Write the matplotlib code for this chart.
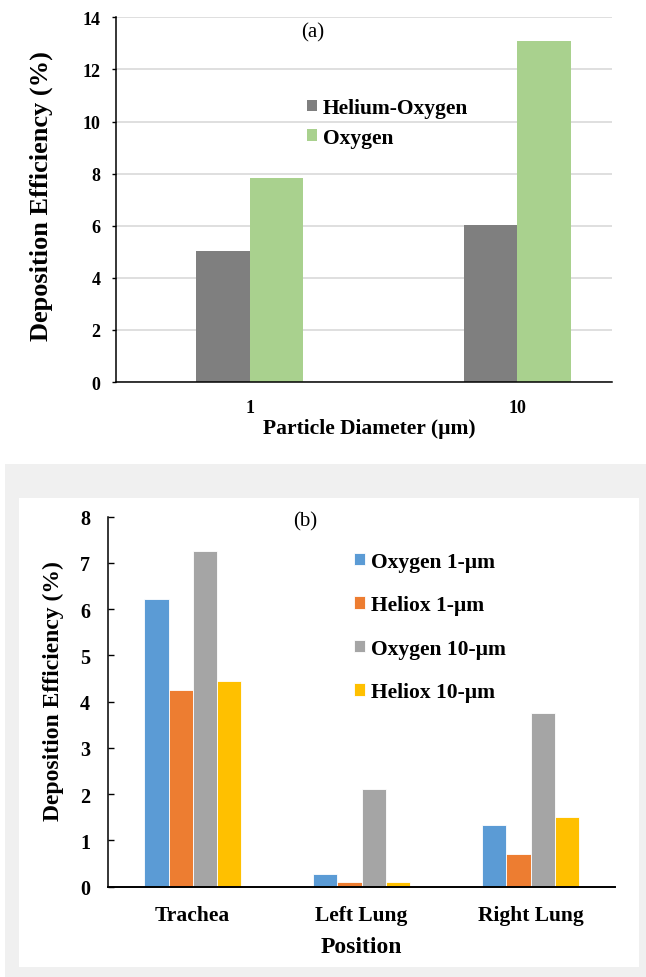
import matplotlib
matplotlib.use("Agg")
import numpy as np
import matplotlib.pyplot as plt
from matplotlib.patches import Rectangle

plt.rcParams['font.family'] = ['Liberation Serif', 'DejaVu Serif']

# panel (a)
sizes = ['1', '10']
series_a = ['Helium-Oxygen', 'Oxygen']
helium_oxygen = [5.03, 6.02]
oxygen = [7.82, 13.1]
colors_a = ['#7f7f7f', '#a9d18e']

# panel (b)
positions = ['Trachea', 'Left Lung', 'Right Lung']
series_b = ['Oxygen 1-µm', 'Heliox 1-µm', 'Oxygen 10-µm', 'Heliox 10-µm']
oxygen_1 = [6.22, 0.28, 1.34]
heliox_1 = [4.25, 0.09, 0.70]
oxygen_10 = [7.26, 2.10, 3.75]
heliox_10 = [4.44, 0.10, 1.50]
colors_b = ['#5b9bd5', '#ed7d31', '#a5a5a5', '#ffc000']

W, H = 646, 978
fig = plt.figure(figsize=(W / 100, H / 100), dpi=100)


def px_axes(left, top, right, bottom):
    return fig.add_axes([left / W, 1 - bottom / H, (right - left) / W, (bottom - top) / H])


# grey frame behind panel (b)
fig.patches.append(Rectangle((5 / W, 0), 1 - 5 / W, 1 - 465 / H, transform=fig.transFigure,
                             facecolor='#f0f0f0', edgecolor='none', zorder=-2))
fig.patches.append(Rectangle((19 / W, 1 - 968 / H), (639 - 19) / W, (968 - 499) / H,
                             transform=fig.transFigure, facecolor='white', edgecolor='none', zorder=-1))

bold = dict(fontweight='bold')

# ---------- (a) ----------
ax = px_axes(116, 18.3, 612, 383)
x = np.arange(len(sizes))
w = 0.2
ax.bar(x - w / 2, helium_oxygen, w, color=colors_a[0], label=series_a[0], zorder=2)
ax.bar(x + w / 2, oxygen, w, color=colors_a[1], label=series_a[1], zorder=2)
ax.set_xlim(-0.5, 1.354)
ax.set_ylim(0, 14)
ax.set_yticks(np.arange(0, 15, 2))
ax.set_xticks(x)
ax.set_xticklabels(sizes, fontsize=13, **bold)
ax.set_yticklabels([str(v) for v in range(0, 15, 2)], fontsize=13, **bold)
ax.yaxis.grid(True, color='#d9d9d9', lw=1.2, zorder=0)
ax.set_axisbelow(True)
for s in ['top', 'right']:
    ax.spines[s].set_visible(False)
ax.spines['left'].set_linewidth(1.1)
ax.spines['bottom'].set_linewidth(1.1)
ax.tick_params(axis='y', length=3, width=1, pad=8)
ax.tick_params(axis='x', length=0, pad=12)
ax.set_xlabel('Particle Diameter (µm)', fontsize=15.5, **bold)
ax.xaxis.set_label_coords(0.51, -0.099)
ax.set_ylabel('Deposition Efficiency (%)', fontsize=19, **bold)
ax.yaxis.set_label_coords(-0.127, 0.513)
ax.text(0.397, 0.96, '(a)', transform=ax.transAxes, fontsize=15, ha='center', va='center')
ax.legend(loc='upper left', bbox_to_anchor=(0.385, 0.778), frameon=False, prop=dict(size=15.5, weight='bold'),
          handlelength=0.45, handleheight=0.45, handletextpad=0.3, labelspacing=0.45, borderpad=0,
          borderaxespad=0)

# ---------- (b) ----------
bx = px_axes(108.3, 517.6, 615, 887.5)
xb = np.arange(len(positions))
wb = 0.143
vals = [oxygen_1, heliox_1, oxygen_10, heliox_10]
for i, (v, c, lab) in enumerate(zip(vals, colors_b, series_b)):
    bx.bar(xb + (i - 1.5) * wb, v, wb, color=c, edgecolor='white', linewidth=0.6, label=lab, zorder=2)
bx.set_xlim(-0.5, 2.5)
bx.set_ylim(0, 8)
bx.set_yticks(range(0, 9))
bx.set_yticklabels([str(v) for v in range(0, 9)], fontsize=14.5, **bold)
bx.set_xticks(xb)
bx.set_xticklabels(positions, fontsize=15.5, **bold)
for s in ['top', 'right']:
    bx.spines[s].set_visible(False)
bx.spines['left'].set_linewidth(1.1)
bx.spines['bottom'].set_linewidth(1.4)
bx.tick_params(axis='y', direction='in', length=4, width=1, pad=13)
bx.tick_params(axis='x', length=0, pad=13)
bx.set_xlabel('Position', fontsize=17, **bold)
bx.xaxis.set_label_coords(0.5, -0.134)
bx.set_ylabel('Deposition Efficiency (%)', fontsize=17, **bold)
bx.yaxis.set_label_coords(-0.088, 0.531)
bx.text(0.388, 0.988, '(b)', transform=bx.transAxes, fontsize=15, ha='center', va='center')
bx.legend(loc='upper left', bbox_to_anchor=(0.485, 0.905), frameon=False, prop=dict(size=15.5, weight='bold'),
          handlelength=0.5, handleheight=0.5, handletextpad=0.3, labelspacing=1.09, borderpad=0,
          borderaxespad=0)

fig.savefig('out.png', dpi=100)
